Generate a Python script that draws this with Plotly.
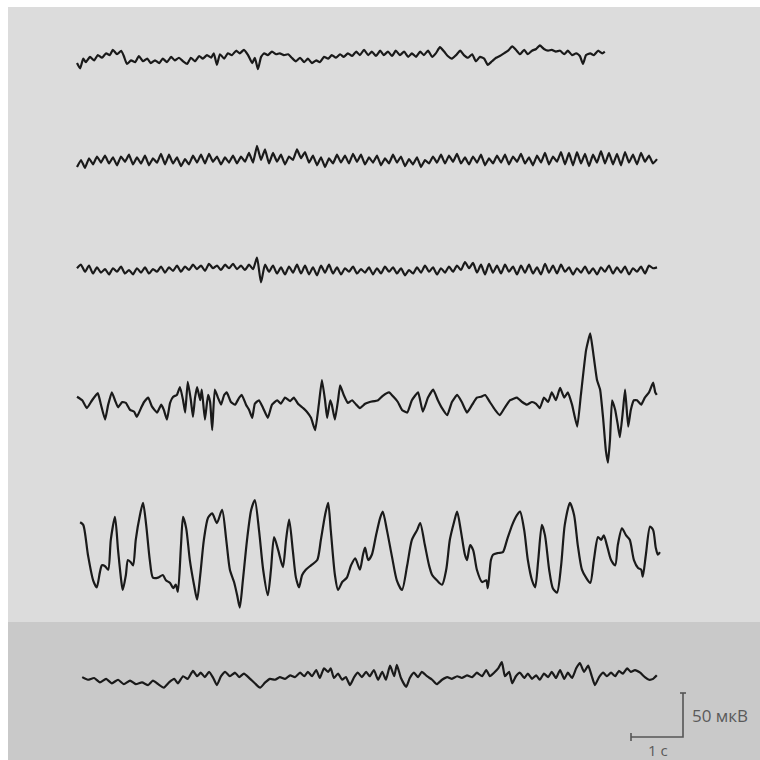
import plotly.graph_objects as go

# ---------------- data ----------------
# time in seconds, amplitude in microvolts (relative to each channel's baseline)
ch1 = [(0.00,-8),(0.06,-14),(0.12,-3),(0.17,-7),(0.25,-1),(0.33,-5),(0.40,1),(0.48,-2),(0.56,3),(0.63,1),
       (0.69,7),(0.77,2),(0.85,6),(0.90,0),(0.96,-9),(1.04,-5),(1.12,-7),(1.19,0),(1.27,-6),(1.35,-3),
       (1.42,-8),(1.50,-5),(1.58,-8),(1.65,-3),(1.73,-7),(1.81,-1),(1.88,-5),(1.96,-2),(2.04,-6),(2.12,-9),
       (2.19,-2),(2.27,-6),(2.35,0),(2.42,-3),(2.50,1),(2.58,-2),(2.63,3),(2.69,-10),(2.75,2),(2.83,-3),
       (2.90,3),(2.98,1),(3.06,6),(3.13,3),(3.21,7),(3.29,1),(3.37,-8),(3.42,-2),(3.48,-15),(3.54,-1),
       (3.60,3),(3.67,1),(3.75,5),(3.83,2),(3.90,3),(3.98,1),(4.06,2),(4.13,-2),(4.21,-6),(4.29,-2),
       (4.37,-7),(4.44,-3),(4.52,-8),(4.60,-5),(4.67,-7),(4.75,-1),(4.83,-3),(4.90,1),(4.98,-2),(5.06,2),
       (5.13,-1),(5.21,3),(5.29,0),(5.37,5),(5.44,1),(5.52,7),(5.60,1),(5.67,5),(5.75,0),(5.83,6),
       (5.90,1),(5.98,5),(6.06,0),(6.13,6),(6.21,1),(6.29,5),(6.37,-1),(6.44,3),(6.52,-1),(6.60,5),
       (6.67,1),(6.75,6),(6.83,-1),(6.90,3),(6.98,10),(7.06,5),(7.13,0),(7.21,-3),(7.29,1),(7.37,6),
       (7.44,1),(7.52,-2),(7.60,2),(7.67,-6),(7.75,-1),(7.83,-3),(7.90,-10),(7.98,-6),(8.06,-2),(8.13,0),
       (8.21,3),(8.29,6),(8.37,11),(8.44,7),(8.52,2),(8.60,7),(8.67,2),(8.75,6),(8.83,8),(8.90,12),
       (8.98,8),(9.06,6),(9.13,7),(9.21,5),(9.29,6),(9.37,2),(9.44,6),(9.52,1),(9.60,3),(9.67,0),
       (9.73,-9),(9.79,1),(9.87,3),(9.94,1),(10.02,6),(10.10,3),(10.15,5)]

# channels 2 and 3: uniformly sampled values
ch2_dt = 4 / 52
ch2 = [-8,0,-9,2,-5,4,-3,5,-4,3,-6,4,-2,6,-5,3,-4,5,-6,2,-3,7,-5,6,-4,3,-7,1,-5,5,
       -3,6,-4,7,-2,4,-5,3,-3,5,-4,4,-2,8,-3,16,0,12,-4,8,-2,6,-5,4,0,12,2,9,-3,5,
       -6,3,-8,2,-4,6,-3,5,-4,7,-2,6,-5,3,-3,5,-6,2,-4,6,-3,4,-7,1,-5,3,-8,0,-4,4,
       -3,6,-4,5,-2,7,-4,3,-5,4,-3,6,-6,2,-4,5,-3,6,-5,4,-2,7,-4,3,-6,5,-3,8,-5,4,
       -2,9,-5,8,-6,9,-4,7,-7,6,-3,10,-4,8,-5,7,-6,9,-3,6,-5,8,-2,5,-4,1]
ch3_dt = 4 / 52
ch3 = [2,6,-2,5,-4,3,-3,1,-5,2,-2,4,-4,0,-5,2,-3,3,-4,1,-2,4,-3,3,-1,5,-2,4,0,6,
       1,5,-1,7,2,5,0,6,2,7,1,5,0,6,1,14,-14,6,-2,5,-4,3,-5,4,-3,6,-4,5,-5,3,
       -6,5,-3,6,-4,3,-5,2,-2,4,-4,1,-3,3,-5,2,-4,4,-2,3,-4,2,-6,0,-4,3,-3,5,-2,3,
       -5,2,-3,4,-2,5,0,9,2,8,-3,6,-5,7,-3,5,-4,6,-2,4,-5,5,-3,6,-4,3,-5,7,-3,5,
       -4,6,-2,3,-5,2,-3,4,-4,2,-5,3,-2,5,-4,3,-3,4,-5,2,-2,4,-4,5,2,3]

ch4 = [(0.00,6),(0.10,2),(0.19,-7),(0.29,2),(0.40,10),(0.46,-3),(0.54,-20),(0.60,-3),(0.67,11),(0.73,2),
       (0.79,-6),(0.87,0),(0.94,-1),(1.02,-9),(1.10,-11),(1.15,-17),(1.23,-7),(1.29,0),(1.37,5),(1.44,-5),
       (1.54,-12),(1.62,-3),(1.67,-9),(1.73,-20),(1.79,-1),(1.85,6),(1.92,8),(1.98,17),(2.04,2),(2.08,-12),
       (2.13,23),(2.19,2),(2.23,-17),(2.27,5),(2.31,17),(2.37,2),(2.40,14),(2.46,-20),(2.52,8),(2.56,0),
       (2.60,-32),(2.65,14),(2.71,5),(2.77,-3),(2.83,8),(2.88,11),(2.96,0),(3.04,-3),(3.12,5),(3.17,8),
       (3.25,-3),(3.31,-9),(3.37,-18),(3.42,-2),(3.50,2),(3.58,-7),(3.67,-18),(3.75,-3),(3.85,2),(3.92,-2),
       (4.00,5),(4.10,1),(4.17,5),(4.25,-2),(4.35,-7),(4.42,-11),(4.50,-18),(4.58,-32),(4.65,-3),(4.71,25),
       (4.77,2),(4.81,-18),(4.87,2),(4.90,-3),(4.96,-20),(5.02,2),(5.06,19),(5.13,8),(5.21,-1),(5.29,2),
       (5.37,-3),(5.44,-7),(5.54,-2),(5.63,0),(5.79,2),(5.88,7),(6.00,11),(6.10,5),(6.17,0),(6.25,-9),
       (6.35,-12),(6.44,2),(6.56,11),(6.65,-11),(6.75,5),(6.85,14),(6.94,2),(7.02,-7),(7.12,-15),(7.21,0),
       (7.31,8),(7.40,0),(7.50,-12),(7.60,-3),(7.69,5),(7.77,6),(7.85,8),(7.94,0),(8.04,-9),(8.13,-15),
       (8.23,-6),(8.33,2),(8.46,5),(8.56,0),(8.65,-3),(8.75,0),(8.83,-2),(8.90,-7),(8.98,5),(9.06,0),
       (9.13,11),(9.21,2),(9.29,16),(9.37,5),(9.44,11),(9.52,-3),(9.62,-28),(9.69,8),(9.79,59),(9.87,78),
       (9.92,59),(10.00,25),(10.06,14),(10.12,-20),(10.17,-55),(10.21,-69),(10.25,-43),(10.29,2),(10.35,-9),(10.40,-26),
       (10.44,-40),(10.50,-9),(10.54,14),(10.60,-28),(10.65,-9),(10.71,2),(10.77,2),(10.85,-3),(10.92,5),(11.00,11),
       (11.08,22),(11.12,11),(11.15,8)]

ch5 = [(0.06,35),(0.12,32),(0.21,-2),(0.31,-31),(0.38,-39),(0.44,-22),(0.48,-14),(0.54,-15),(0.60,-19),(0.65,15),
       (0.73,41),(0.79,3),(0.85,-31),(0.88,-42),(0.94,-25),(0.98,-8),(1.04,-11),(1.08,-14),(1.13,15),(1.21,43),
       (1.27,57),(1.33,32),(1.40,-8),(1.46,-28),(1.56,-28),(1.65,-25),(1.71,-31),(1.79,-34),(1.85,-40),(1.90,-36),
       (1.94,-44),(2.00,9),(2.04,41),(2.10,28),(2.17,-8),(2.25,-36),(2.31,-53),(2.37,-25),(2.44,15),(2.52,40),
       (2.60,45),(2.69,34),(2.79,49),(2.87,15),(2.94,-19),(3.02,-33),(3.08,-48),(3.13,-62),(3.19,-31),(3.27,15),
       (3.35,49),(3.42,60),(3.50,26),(3.58,-19),(3.67,-48),(3.73,-19),(3.79,18),(3.87,3),(3.96,-16),(4.02,15),
       (4.08,38),(4.15,3),(4.21,-28),(4.27,-39),(4.33,-25),(4.40,-19),(4.50,-14),(4.62,-8),(4.69,15),(4.77,43),
       (4.83,57),(4.88,26),(4.96,-25),(5.02,-42),(5.10,-33),(5.19,-28),(5.27,-14),(5.35,-6),(5.44,-19),(5.50,-2),
       (5.54,6),(5.60,-8),(5.67,-2),(5.75,20),(5.83,40),(5.88,47),(5.96,26),(6.06,-5),(6.15,-31),(6.25,-42),
       (6.35,-14),(6.44,15),(6.54,26),(6.60,34),(6.69,9),(6.77,-14),(6.83,-25),(6.92,-31),(7.02,-36),(7.10,-19),
       (7.17,15),(7.25,35),(7.31,47),(7.38,26),(7.46,-2),(7.50,-8),(7.56,9),(7.62,3),(7.69,-19),(7.79,-33),
       (7.87,-31),(7.90,-40),(7.96,-8),(8.00,-2),(8.10,0),(8.19,1),(8.27,15),(8.37,32),(8.46,43),(8.52,47),
       (8.60,26),(8.67,-8),(8.75,-31),(8.81,-39),(8.87,-8),(8.94,32),(9.00,20),(9.08,-19),(9.15,-40),(9.23,-45),
       (9.31,-14),(9.38,32),(9.48,57),(9.56,43),(9.63,9),(9.71,-19),(9.79,-28),(9.87,-34),(9.94,-8),(10.02,18),
       (10.08,15),(10.13,20),(10.19,9),(10.27,-8),(10.35,-14),(10.40,9),(10.48,28),(10.56,20),(10.63,15),(10.71,-8),
       (10.79,-17),(10.85,-19),(10.88,-27),(10.94,-2),(11.02,30),(11.08,26),(11.13,6),(11.17,-2),(11.21,1)]

ch6 = [(0.10,1),(0.21,-2),(0.33,0),(0.44,-5),(0.56,-1),(0.67,-6),(0.79,-2),(0.90,-7),(1.02,-3),(1.13,-7),
       (1.25,-5),(1.37,-8),(1.46,-3),(1.56,-7),(1.67,-11),(1.77,-5),(1.87,-1),(1.94,-6),(2.04,2),(2.13,-1),
       (2.23,8),(2.31,2),(2.38,6),(2.46,1),(2.54,7),(2.62,0),(2.69,-8),(2.77,2),(2.85,7),(2.94,2),
       (3.04,6),(3.12,1),(3.21,5),(3.33,-1),(3.42,-6),(3.52,-11),(3.62,-5),(3.71,-1),(3.81,-2),(3.90,1),
       (4.00,-1),(4.10,3),(4.19,1),(4.29,6),(4.37,2),(4.44,7),(4.52,2),(4.60,9),(4.67,0),(4.75,11),
       (4.83,7),(4.88,11),(4.94,0),(5.02,5),(5.10,-2),(5.17,1),(5.25,-8),(5.33,1),(5.40,6),(5.48,1),
       (5.56,7),(5.63,2),(5.71,9),(5.79,-2),(5.87,7),(5.94,-2),(6.02,14),(6.10,2),(6.15,15),(6.23,0),
       (6.33,-10),(6.40,0),(6.48,6),(6.56,1),(6.63,7),(6.73,2),(6.83,-2),(6.92,-7),(7.02,-2),(7.12,1),
       (7.21,-1),(7.31,2),(7.40,0),(7.50,3),(7.60,1),(7.69,6),(7.79,2),(7.87,9),(7.94,2),(8.02,6),
       (8.10,11),(8.17,18),(8.23,2),(8.31,7),(8.37,-6),(8.44,2),(8.52,6),(8.60,0),(8.67,5),(8.75,-1),
       (8.83,3),(8.90,-2),(8.98,5),(9.06,1),(9.13,7),(9.21,0),(9.29,9),(9.37,-1),(9.44,6),(9.52,0),
       (9.60,11),(9.67,17),(9.75,7),(9.83,14),(9.90,2),(9.96,-8),(10.04,1),(10.12,6),(10.19,2),(10.27,6),
       (10.35,2),(10.42,8),(10.50,5),(10.58,11),(10.65,7),(10.73,9),(10.83,6),(10.92,1),(11.00,-2),(11.08,-1),
       (11.15,3)]

scale_uv = 50      # vertical calibration bar, µV
scale_s = 1        # horizontal calibration bar, s
scale_labels = ["50 мкВ", "1 с"]

# ---------------- layout geometry ----------------
W = H = 760
PX_PER_S = 52.0
UV_PER_PX = 50.0 / 44.0
X0_PX = 77.0
baselines_px = [56, 160, 270, 402, 553, 678]
offsets = [-b * UV_PER_PX for b in baselines_px]
smooth = [0.5, 0.3, 0.6, 0.4, 0.7, 0.5]

def px2t(px):
    return (px - X0_PX) / PX_PER_S

def py2v(py):
    return -py * UV_PER_PX

def unzip(pairs):
    return [p[0] for p in pairs], [p[1] for p in pairs]

series = [unzip(ch1),
          ([i * ch2_dt for i in range(len(ch2))], ch2),
          ([i * ch3_dt for i in range(len(ch3))], ch3),
          unzip(ch4), unzip(ch5), unzip(ch6)]

fig = go.Figure()
for (t, v), off, sm in zip(series, offsets, smooth):
    fig.add_trace(go.Scatter(x=t, y=[a + off for a in v], mode="lines",
                             line=dict(color="#1a1a1a", width=2.2, shape="spline", smoothing=sm),
                             hoverinfo="skip", showlegend=False))

# backgrounds
fig.add_shape(type="rect", xref="paper", yref="paper", x0=8 / W, x1=1, y0=1 - 622 / H, y1=1 - 7 / H,
              fillcolor="#dcdcdc", line_width=0, layer="below")
fig.add_shape(type="rect", xref="paper", yref="paper", x0=8 / W, x1=1, y0=0, y1=1 - 622 / H,
              fillcolor="#c9c9c9", line_width=0, layer="below")

# calibration bars
bar_t1 = px2t(683)
bar_t0 = bar_t1 - scale_s
bar_y0 = py2v(737)
bar_y1 = bar_y0 + scale_uv
bc = "#555555"
fig.add_trace(go.Scatter(x=[bar_t0, bar_t1, bar_t1], y=[bar_y0, bar_y0, bar_y1], mode="lines",
                         line=dict(color=bc, width=1.6), hoverinfo="skip", showlegend=False))
tk = 4 * UV_PER_PX
fig.add_trace(go.Scatter(x=[bar_t0, bar_t0], y=[bar_y0 - tk, bar_y0 + tk], mode="lines",
                         line=dict(color=bc, width=1.6), hoverinfo="skip", showlegend=False))
tkx = 3 / PX_PER_S
fig.add_trace(go.Scatter(x=[bar_t1 - tkx, bar_t1 + tkx], y=[bar_y1, bar_y1], mode="lines",
                         line=dict(color=bc, width=1.6), hoverinfo="skip", showlegend=False))

fig.add_annotation(x=bar_t1 + 7 / PX_PER_S, y=(bar_y0 + bar_y1) / 2, text=scale_labels[0],
                   showarrow=False, xanchor="left", yanchor="middle",
                   font=dict(family="Open Sans", size=17, color="#5a5a5a"))
fig.add_annotation(x=(bar_t0 + bar_t1) / 2 + 1 / PX_PER_S, y=bar_y0 - 13 * UV_PER_PX, text=scale_labels[1],
                   showarrow=False, xanchor="center", yanchor="middle",
                   font=dict(family="Open Sans", size=15, color="#5a5a5a"))

fig.update_layout(width=W, height=H, margin=dict(l=0, r=0, t=0, b=0),
                  paper_bgcolor="white", plot_bgcolor="rgba(0,0,0,0)",
                  xaxis=dict(range=[px2t(0), px2t(W)], visible=False, fixedrange=True),
                  yaxis=dict(range=[py2v(H), py2v(0)], visible=False, fixedrange=True))

fig.write_html("out.html", config={"displayModeBar": False},
               post_script="document.body.style.margin='0';document.body.style.overflow='hidden';")
